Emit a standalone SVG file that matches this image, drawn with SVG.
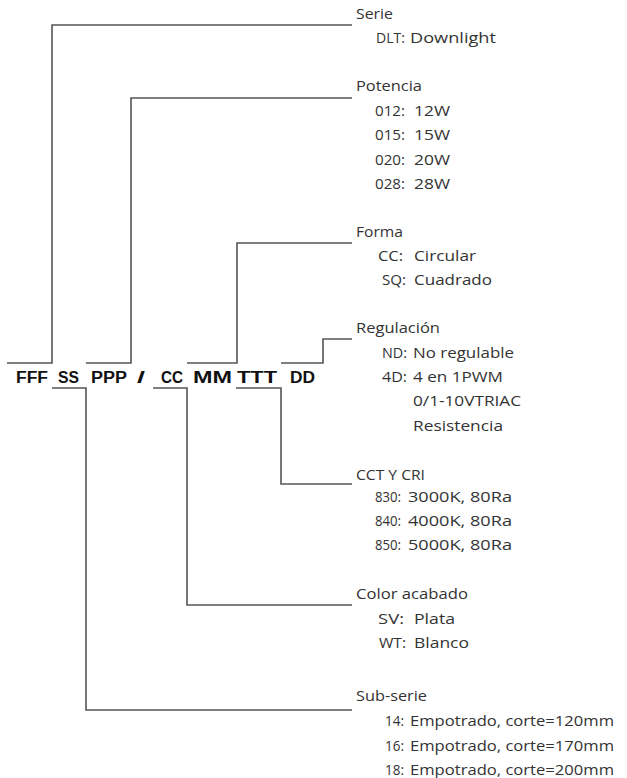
<svg xmlns="http://www.w3.org/2000/svg" width="627" height="778" viewBox="0 0 627 778">
<style>
.ln{fill:none;stroke:#555;stroke-width:1.6}
.t{font-family:"Open Sans",sans-serif;font-size:14px;fill:#333}
.c{font-family:"Liberation Sans",Arial,sans-serif;font-weight:bold;font-size:16px;fill:#111}
</style>
<rect width="627" height="778" fill="#fff"/>
<g id="connectors">
<path class="ln" d="M7,363 H52 V25 H352"/>
<path class="ln" d="M86,363 H131 V98 H352"/>
<path class="ln" d="M187,363 H237 V243 H352"/>
<path class="ln" d="M281,363 H323 V339 H352"/>
<path class="ln" d="M236,388 H281 V484 H352"/>
<path class="ln" d="M153,388 H187 V605 H352"/>
<path class="ln" d="M52,388 H86 V710 H352"/>
</g>
<g id="code">
<text class="c" x="16" y="383" textLength="32" lengthAdjust="spacingAndGlyphs">FFF</text>
<text class="c" x="58" y="383" textLength="21" lengthAdjust="spacingAndGlyphs">SS</text>
<text class="c" x="91" y="383" textLength="36" lengthAdjust="spacingAndGlyphs">PPP</text>
<text class="c" x="137" y="383" textLength="8" lengthAdjust="spacingAndGlyphs">/</text>
<text class="c" x="161" y="383" textLength="22" lengthAdjust="spacingAndGlyphs">CC</text>
<text class="c" x="193" y="383" textLength="39" lengthAdjust="spacingAndGlyphs">MM</text>
<text class="c" x="237" y="383" textLength="40" lengthAdjust="spacingAndGlyphs">TTT</text>
<text class="c" x="290" y="383" textLength="25" lengthAdjust="spacingAndGlyphs">DD</text>
</g>
<g id="serie">
<text class="t" x="356" y="19" textLength="37" lengthAdjust="spacingAndGlyphs">Serie</text>
<text class="t" x="376" y="43">DLT:</text>
<text class="t" x="410" y="43" textLength="86" lengthAdjust="spacingAndGlyphs">Downlight</text>
</g>
<g id="potencia">
<text class="t" x="356" y="91" textLength="66" lengthAdjust="spacingAndGlyphs">Potencia</text>
<text class="t" x="375" y="115.5" textLength="30" lengthAdjust="spacingAndGlyphs">012:</text>
<text class="t" x="414" y="115.5" textLength="36" lengthAdjust="spacingAndGlyphs">12W</text>
<text class="t" x="375" y="140" textLength="30" lengthAdjust="spacingAndGlyphs">015:</text>
<text class="t" x="414" y="140" textLength="36" lengthAdjust="spacingAndGlyphs">15W</text>
<text class="t" x="375" y="164.5" textLength="30" lengthAdjust="spacingAndGlyphs">020:</text>
<text class="t" x="414" y="164.5" textLength="36" lengthAdjust="spacingAndGlyphs">20W</text>
<text class="t" x="375" y="189" textLength="30" lengthAdjust="spacingAndGlyphs">028:</text>
<text class="t" x="414" y="189" textLength="36" lengthAdjust="spacingAndGlyphs">28W</text>
</g>
<g id="forma">
<text class="t" x="356" y="236.5" textLength="47" lengthAdjust="spacingAndGlyphs">Forma</text>
<text class="t" x="378" y="261" textLength="25" lengthAdjust="spacingAndGlyphs">CC:</text>
<text class="t" x="414" y="261" textLength="62" lengthAdjust="spacingAndGlyphs">Circular</text>
<text class="t" x="382" y="285" textLength="24" lengthAdjust="spacingAndGlyphs">SQ:</text>
<text class="t" x="414" y="285" textLength="78" lengthAdjust="spacingAndGlyphs">Cuadrado</text>
</g>
<g id="regulacion">
<text class="t" x="356" y="333" textLength="84" lengthAdjust="spacingAndGlyphs">Regulación</text>
<text class="t" x="382" y="357.5" textLength="25" lengthAdjust="spacingAndGlyphs">ND:</text>
<text class="t" x="413" y="357.5" textLength="101" lengthAdjust="spacingAndGlyphs">No regulable</text>
<text class="t" x="382" y="382" textLength="25" lengthAdjust="spacingAndGlyphs">4D:</text>
<text class="t" x="413" y="382" textLength="90" lengthAdjust="spacingAndGlyphs">4 en 1PWM</text>
<text class="t" x="413" y="406" textLength="108" lengthAdjust="spacingAndGlyphs">0/1-10VTRIAC</text>
<text class="t" x="413" y="430.5" textLength="90" lengthAdjust="spacingAndGlyphs">Resistencia</text>
</g>
<g id="cct">
<text class="t" x="356" y="479.5" textLength="69" lengthAdjust="spacingAndGlyphs">CCT Y CRI</text>
<text class="t" x="375" y="502" textLength="26" lengthAdjust="spacingAndGlyphs">830:</text>
<text class="t" x="408" y="502" textLength="104" lengthAdjust="spacingAndGlyphs">3000K, 80Ra</text>
<text class="t" x="375" y="526" textLength="26" lengthAdjust="spacingAndGlyphs">840:</text>
<text class="t" x="408" y="526" textLength="104" lengthAdjust="spacingAndGlyphs">4000K, 80Ra</text>
<text class="t" x="375" y="550" textLength="26" lengthAdjust="spacingAndGlyphs">850:</text>
<text class="t" x="408" y="550" textLength="104" lengthAdjust="spacingAndGlyphs">5000K, 80Ra</text>
</g>
<g id="color">
<text class="t" x="356" y="598.5" textLength="112" lengthAdjust="spacingAndGlyphs">Color acabado</text>
<text class="t" x="378" y="623.5" textLength="26" lengthAdjust="spacingAndGlyphs">SV:</text>
<text class="t" x="414" y="623.5" textLength="41" lengthAdjust="spacingAndGlyphs">Plata</text>
<text class="t" x="379" y="647.5" textLength="27" lengthAdjust="spacingAndGlyphs">WT:</text>
<text class="t" x="414" y="647.5" textLength="55" lengthAdjust="spacingAndGlyphs">Blanco</text>
</g>
<g id="subserie">
<text class="t" x="356" y="700.5" textLength="71" lengthAdjust="spacingAndGlyphs">Sub-serie</text>
<text class="t" x="385" y="726" textLength="19" lengthAdjust="spacingAndGlyphs">14:</text>
<text class="t" x="410" y="726" textLength="204" lengthAdjust="spacingAndGlyphs">Empotrado, corte=120mm</text>
<text class="t" x="385" y="751" textLength="19" lengthAdjust="spacingAndGlyphs">16:</text>
<text class="t" x="410" y="751" textLength="204" lengthAdjust="spacingAndGlyphs">Empotrado, corte=170mm</text>
<text class="t" x="385" y="775" textLength="19" lengthAdjust="spacingAndGlyphs">18:</text>
<text class="t" x="410" y="775" textLength="204" lengthAdjust="spacingAndGlyphs">Empotrado, corte=200mm</text>
</g>
</svg>
